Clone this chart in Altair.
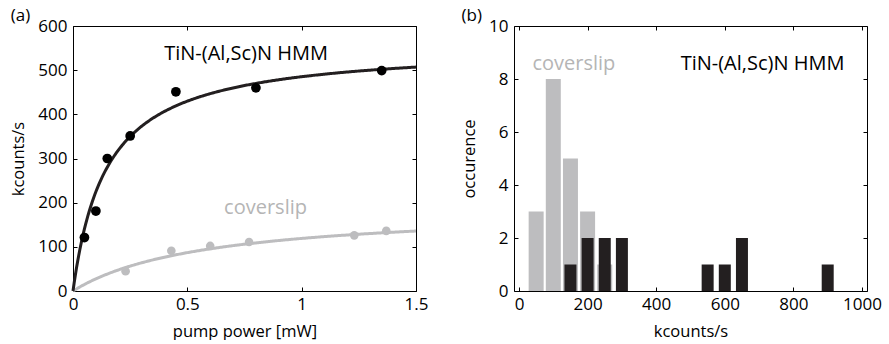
import altair as alt
import pandas as pd

# ---------------- Panel (a): emission vs pump power ----------------
hmm_power = [0.05, 0.10, 0.15, 0.25, 0.45, 0.80, 1.35]
hmm_counts = [121, 181, 300, 351, 451, 460, 499]
cov_power = [0.23, 0.43, 0.60, 0.77, 1.23, 1.37]
cov_counts = [45, 91, 102, 111, 126, 136]
# saturation fit parameters  I = Imax * P / (P + Psat)
hmm_imax, hmm_psat = 557, 0.148
cov_imax, cov_psat = 189, 0.588

# ---------------- Panel (b): histogram ----------------
cov_bins = [50, 100, 150, 200, 250]
cov_occ = [3, 8, 5, 3, 1]
hmm_bins = [150, 200, 250, 300, 550, 600, 650, 900]
hmm_occ = [1, 2, 2, 2, 1, 1, 2, 1]

FONT = "Open Sans"
GRAY = "#bdbdbf"
GRAYTXT = "#b5b5b5"
BLACK = "#231f20"
LABEL_FS = 17
TITLE_FS = 16.5
ANN_FS = 20

df_hmm = pd.DataFrame({"P": hmm_power, "I": hmm_counts})
df_cov = pd.DataFrame({"P": cov_power, "I": cov_counts})


def main_axis(title, values, title_pad, label_pad, fmt=None):
    kw = dict(title=title, values=values, domain=False, ticks=True, tickSize=4,
              offset=-4, tickColor="black", labelPadding=label_pad, labelFlush=False,
              labelOverlap=False, labelFont=FONT, titleFont=FONT, labelFontSize=LABEL_FS,
              titleFontSize=TITLE_FS, titleFontWeight="normal", labelColor="black",
              titleColor="black", grid=False, titlePadding=title_pad)
    if fmt:
        kw["format"] = fmt
    return alt.Axis(**kw)


def mirror_axis(orient, values):
    return alt.Axis(orient=orient, values=values, labels=False, title=None, domain=False,
                    ticks=True, tickSize=4, offset=-4, tickColor="black", grid=False)


xa_vals = [0, 0.5, 1, 1.5]
ya_vals = [0, 100, 200, 300, 400, 500, 600]
xs_a = alt.Scale(domain=[0, 1.5], nice=False)
ys_a = alt.Scale(domain=[0, 600], nice=False)

pts_hmm = alt.Chart(df_hmm).mark_circle(size=95, color="black", opacity=1).encode(
    x=alt.X("P:Q", scale=xs_a, axis=main_axis("pump power [mW]", xa_vals, 11, 5, "~g")),
    y=alt.Y("I:Q", scale=ys_a, axis=main_axis("kcounts/s", ya_vals, 11, 6)),
)
pts_cov = alt.Chart(df_cov).mark_circle(size=75, color=GRAY, opacity=1).encode(
    x=alt.X("P:Q", scale=xs_a, axis=mirror_axis("top", xa_vals)),
    y=alt.Y("I:Q", scale=ys_a, axis=mirror_axis("right", ya_vals)),
)

curve_hmm = alt.Chart(alt.sequence(0, 1.5001, 0.005, as_="P")).transform_calculate(
    I=f"{hmm_imax} * datum.P / (datum.P + {hmm_psat})"
).mark_line(color=BLACK, strokeWidth=3).encode(
    x=alt.X("P:Q", scale=xs_a, axis=None), y=alt.Y("I:Q", scale=ys_a, axis=None)
)
curve_cov = alt.Chart(alt.sequence(0, 1.5001, 0.005, as_="P")).transform_calculate(
    I=f"{cov_imax} * datum.P / (datum.P + {cov_psat})"
).mark_line(color=GRAY, strokeWidth=3).encode(
    x=alt.X("P:Q", scale=xs_a, axis=None), y=alt.Y("I:Q", scale=ys_a, axis=None)
)

lab_a = pd.DataFrame({"x": [0.757, 0.842], "y": [536, 187],
                      "t": ["TiN-(Al,Sc)N HMM", "coverslip"], "c": ["black", GRAYTXT]})
text_a = alt.Chart(lab_a).mark_text(font=FONT, fontSize=ANN_FS, align="center", baseline="middle").encode(
    x=alt.X("x:Q", scale=xs_a, axis=None), y=alt.Y("y:Q", scale=ys_a, axis=None),
    text="t:N", color=alt.Color("c:N", scale=None),
)

left = alt.layer(curve_cov, curve_hmm, pts_cov, pts_hmm, text_a).resolve_axis(
    x="independent", y="independent"
).properties(width=343, height=265,
             title=alt.TitleParams("(a)", anchor="start", frame="bounds", fontSize=17,
                                   fontWeight="normal", font=FONT, offset=-8))

# ---------------- right panel ----------------
xb_vals = [0, 200, 400, 600, 800, 1000]
yb_vals = [0, 2, 4, 6, 8, 10]
xs_b = alt.Scale(domain=[0, 1000], nice=False)
ys_b = alt.Scale(domain=[0, 10], nice=False)

df_cb = pd.DataFrame({"k": cov_bins, "n": cov_occ})
df_hb = pd.DataFrame({"k": hmm_bins, "n": hmm_occ})

bars_cov = alt.Chart(df_cb).mark_bar(size=15, color=GRAY).encode(
    x=alt.X("k:Q", scale=xs_b, axis=main_axis("kcounts/s", xb_vals, 11, 5, "d")),
    y=alt.Y("n:Q", scale=ys_b, axis=main_axis("occurence", yb_vals, 11, 6)),
)
bars_hmm = alt.Chart(df_hb).mark_bar(size=12, color=BLACK).encode(
    x=alt.X("k:Q", scale=xs_b, axis=mirror_axis("top", xb_vals)),
    y=alt.Y("n:Q", scale=ys_b, axis=mirror_axis("right", yb_vals)),
)
lab_b = pd.DataFrame({"x": [160, 710], "y": [8.55, 8.55],
                      "t": ["coverslip", "TiN-(Al,Sc)N HMM"], "c": [GRAYTXT, "black"]})
text_b = alt.Chart(lab_b).mark_text(font=FONT, fontSize=ANN_FS, align="center", baseline="middle").encode(
    x=alt.X("x:Q", scale=xs_b, axis=None), y=alt.Y("y:Q", scale=ys_b, axis=None),
    text="t:N", color=alt.Color("c:N", scale=None),
)

right = alt.layer(bars_cov, bars_hmm, text_b).resolve_axis(
    x="independent", y="independent"
).properties(width=353, height=265,
             title=alt.TitleParams("(b)", anchor="start", frame="bounds", fontSize=17,
                                   fontWeight="normal", font=FONT, offset=-8))

chart = alt.hconcat(left, right, spacing=32).properties(
    padding={"left": 10, "top": 6, "right": 0, "bottom": 0}
).configure_view(stroke="black", strokeWidth=1)

chart.save("out.html", embed_options={"renderer": "svg", "actions": False})
